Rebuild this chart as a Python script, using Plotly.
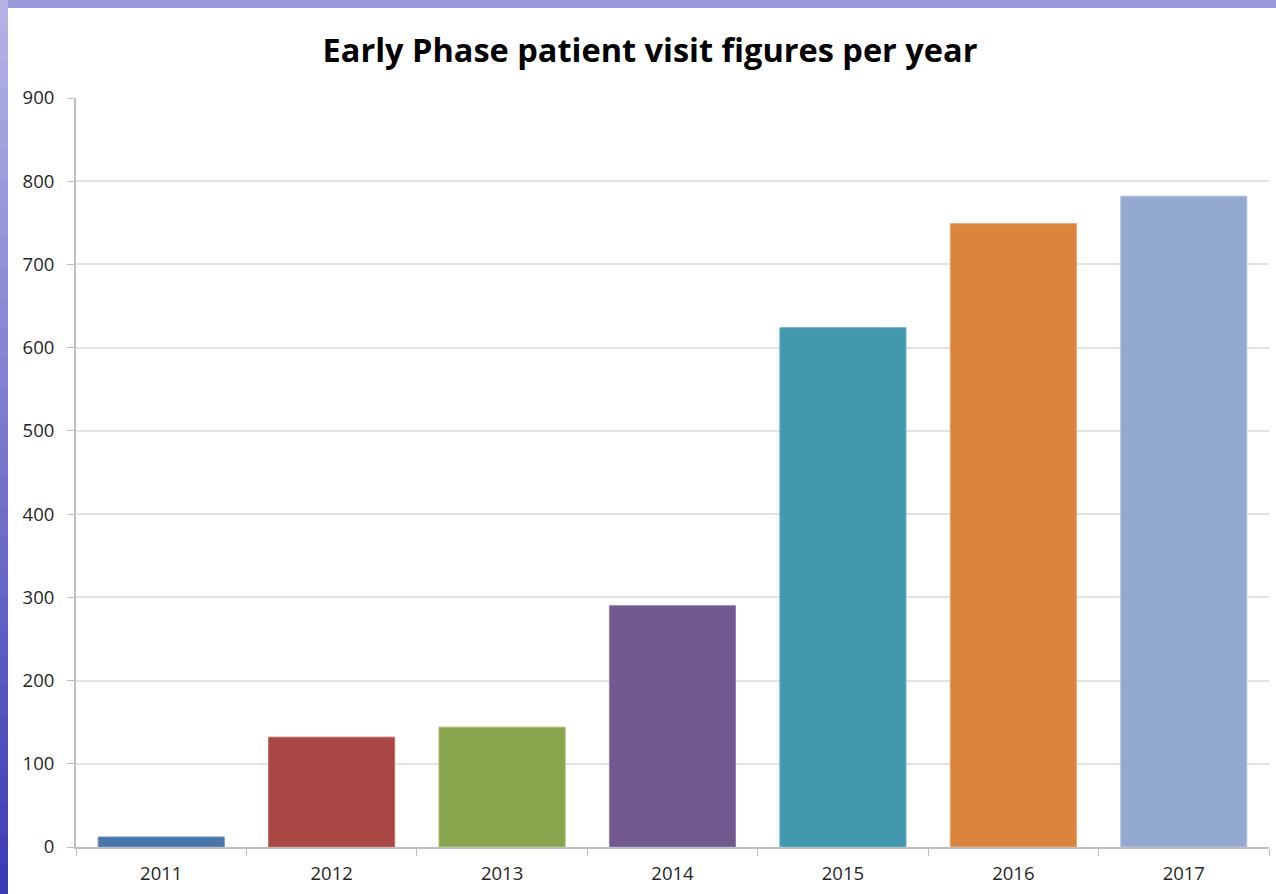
import plotly.graph_objects as go

years = ["2011", "2012", "2013", "2014", "2015", "2016", "2017"]
visits = [12, 132, 144, 290, 624, 749, 782]
bar_colors = ["#4A75AA", "#AA4643", "#89A54E", "#71588F", "#4198AF", "#DB843D", "#93A9CF"]
edge_colors = ["#6A8FC0", "#C06C69", "#A5BE72", "#9080AA", "#6AB2C4", "#E8A26A", "#B3C4E0"]
y_ticks = [0, 100, 200, 300, 400, 500, 600, 700, 800, 900]
title_text = "Early Phase patient visit figures per year"

W, H = 1276, 894
ml, mr, mt, mb = 76, 7, 98, 47
pw, ph = W - ml - mr, H - mt - mb

def px_x(p):
    return (p - ml) / pw

def px_y(p):
    return (H - mb - p) / ph

fig = go.Figure(go.Bar(
    x=years, y=visits,
    marker=dict(color=bar_colors, line=dict(color=edge_colors, width=1)),
    hoverinfo="x+y",
))

shapes = []
# top strip (slide background)
shapes.append(dict(type="rect", xref="paper", yref="paper",
                   x0=px_x(0), x1=px_x(W), y0=px_y(8), y1=px_y(0),
                   fillcolor="#9C9ADA", line=dict(width=0), layer="below"))
# left strip gradient
n = 30
def lerp(a, b, t):
    return int(round(a + (b - a) * t))
c_top = (0xB4, 0xB2, 0xE4)
c_bot = (0x3E, 0x3C, 0xB4)
for i in range(n):
    t = i / (n - 1)
    col = "rgb(%d,%d,%d)" % tuple(lerp(c_top[k], c_bot[k], t) for k in range(3))
    y0p = H * i / n
    y1p = H * (i + 1) / n + 1
    shapes.append(dict(type="rect", xref="paper", yref="paper",
                       x0=px_x(0), x1=px_x(8), y0=px_y(y1p), y1=px_y(y0p),
                       fillcolor=col, line=dict(width=0), layer="below"))

fig.update_layout(
    width=W, height=H,
    margin=dict(l=ml, r=mr, t=mt, b=mb),
    paper_bgcolor="white", plot_bgcolor="white",
    showlegend=False,
    bargap=0.26,
    title=dict(text="<b>" + title_text + "</b>", x=650 / W, xanchor="center",
               y=1 - 51 / H, yanchor="middle",
               font=dict(family="Open Sans", size=32.5, color="#000000")),
    font=dict(family="Open Sans", color="#404040"),
    shapes=shapes,
    xaxis=dict(
        type="category", showgrid=False, showline=True, linecolor="#BFBFBF", linewidth=1.5,
        ticks="outside", tickson="boundaries", ticklen=7, tickcolor="#BFBFBF",
        tickfont=dict(size=18.5, color="#262626"), ticklabelstandoff=9, fixedrange=True,
    ),
    yaxis=dict(
        range=[0, 900], tickvals=y_ticks, showgrid=True, gridcolor="#E3E3E3", gridwidth=1.5,
        showline=True, linecolor="#BFBFBF", linewidth=2, ticks="outside", ticklen=7,
        tickcolor="#BFBFBF", tickfont=dict(size=18.5, color="#262626"), zeroline=False,
        ticklabelstandoff=9, fixedrange=True,
    ),
)

fig.write_html("out.html", post_script="document.body.style.margin='0';",
               config={"displayModeBar": False})
